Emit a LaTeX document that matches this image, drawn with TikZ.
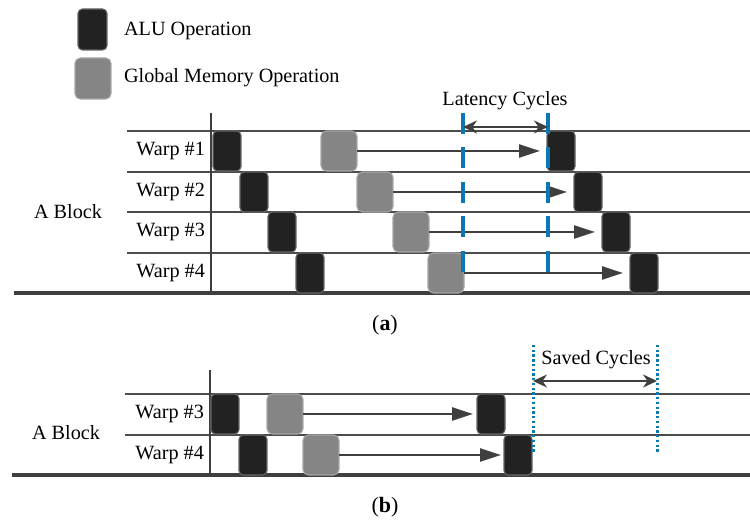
\documentclass[tikz,border=0pt]{standalone}
\usepackage{fontspec}
\setmainfont{Liberation Serif}
\usetikzlibrary{positioning,arrows.meta}

\definecolor{aluclr}{HTML}{222222}
\definecolor{memclr}{HTML}{858585}
\definecolor{markclr}{HTML}{0B77B3}
\definecolor{lineclr}{HTML}{3F3F3F}

\tikzset{
	alu/.style={draw=black!60, fill=aluclr, rounded corners=2.5pt, minimum width=0.56cm, minimum height=0.8cm, inner sep=0pt, outer sep=0pt, anchor=north west, line width=0.6pt},
	mem/.style={draw=black!35, fill=memclr, rounded corners=3pt, minimum width=0.72cm, minimum height=0.8cm, inner sep=0pt, outer sep=0pt, anchor=north west, line width=0.6pt},
	wait/.style={draw=lineclr, line width=1.4pt, shorten >=0.14cm, -{Triangle[length=0.42cm,width=0.26cm]}},
	rowline/.style={draw=black!70, line width=0.6pt},
	baseline/.style={draw=lineclr, line width=1.8pt},
	axis/.style={draw=lineclr, line width=1.1pt},
	latency/.style={draw=markclr, line width=1.8pt, dash pattern=on 0.42cm off 0.27cm},
	saved/.style={draw=markclr, line width=1.7pt, dash pattern=on 1.3pt off 1.4pt},
	span/.style={draw=lineclr, line width=1.2pt, {Stealth[length=0.28cm,width=0.26cm]}-{Stealth[length=0.28cm,width=0.26cm]}},
	lbl/.style={font=\fontsize{11.5pt}{13pt}\selectfont, inner sep=1pt}
}

\begin{document}
\begin{tikzpicture}[x=0.02cm, y=-0.02cm]
		\useasboundingbox (0,0) rectangle (750,523);
		
		% legend
		\node[alu, minimum width=0.58cm, minimum height=0.82cm] (legalu) at (78,9) {};
		\node[lbl, anchor=west] (legalut) at (122,31) {ALU Operation};
		\node[mem, minimum height=0.82cm] (legmem) at (75,58) {};
		\node[lbl, anchor=west] (legmemt) at (122,78) {Global Memory Operation};
		
		% (a) four warps
		\draw[rowline] (127,131) -- (750,131);
		\draw[rowline] (127,172) -- (750,172);
		\draw[rowline] (127,212) -- (750,212);
		\draw[rowline] (127,253) -- (750,253);
		\draw[baseline] (14,293) -- (750,293);
		\draw[axis] (211,113) -- (211,293);
		
		\node[lbl] (blocka) at (68,212) {A Block};
		\node[lbl, anchor=east] (w1) at (207,151) {Warp \#1};
		\node[lbl, anchor=east] (w2) at (207,192) {Warp \#2};
		\node[lbl, anchor=east] (w3) at (207,232) {Warp \#3};
		\node[lbl, anchor=east] (w4) at (207,273) {Warp \#4};
		
		\node[alu] (a1) at (213,131) {};
		\node[alu] (a2) at (240,172) {};
		\node[alu] (a3) at (268,212) {};
		\node[alu] (a4) at (296,253) {};
		
		\node[mem] (m1) at (321,131) {};
		\node[mem] (m2) at (357,172) {};
		\node[mem] (m3) at (393,212) {};
		\node[mem] (m4) at (428,253) {};
		
		\node[alu] (r1) at (547,131) {};
		\node[alu] (r2) at (574,172) {};
		\node[alu] (r3) at (602,212) {};
		\node[alu] (r4) at (630,253) {};
		
		\draw[wait] (m1.east) -- (r1.west);
		\draw[wait] (m2.east) -- (r2.west);
		\draw[wait] (m3.east) -- (r3.west);
		\draw[wait] (m4.east) -- (r4.west);
		
		\coordinate (lat1t) at (463,113);
		\coordinate (lat1b) at (463,273);
		\coordinate (lat2t) at (548,113);
		\coordinate (lat2b) at (548,273);
		\draw[latency] (lat1t) -- (lat1b);
		\draw[latency] (lat2t) -- (lat2b);
		\coordinate (latl) at (463,127);
		\coordinate (latr) at (548,127);
		\draw[span] (latl) -- (latr);
		\node[lbl] (latt) at (505,101) {Latency Cycles};
		
		\node[font=\fontsize{12.5pt}{14pt}\selectfont] (capa) at (385,325) {(\textbf{a})};
		
		% (b) two warps
		\draw[rowline] (125,394) -- (750,394);
		\draw[rowline] (125,435) -- (750,435);
		\draw[baseline] (12,475) -- (750,475);
		\draw[axis] (210,370) -- (210,475);
		
		\node[lbl] (blockb) at (66,433) {A Block};
		\node[lbl, anchor=east] (v3) at (206,414) {Warp \#3};
		\node[lbl, anchor=east] (v4) at (206,455) {Warp \#4};
		
		\node[alu] (b3) at (211,394) {};
		\node[alu] (b4) at (239,435) {};
		\node[mem] (n3) at (267,394) {};
		\node[mem] (n4) at (303,435) {};
		\node[alu] (s3) at (477,394) {};
		\node[alu] (s4) at (504,435) {};
		
		\draw[wait, shorten >=0.08cm] (n3.east) -- (s3.west);
		\draw[wait, shorten >=0.06cm] (n4.east) -- (s4.west);
		
		\coordinate (sav1t) at (533,345);
		\coordinate (sav1b) at (533,453);
		\coordinate (sav2t) at (657,345);
		\coordinate (sav2b) at (657,453);
		\draw[saved] (sav1t) -- (sav1b);
		\draw[saved] (sav2t) -- (sav2b);
		\coordinate (savl) at (533,381);
		\coordinate (savr) at (657,381);
		\draw[span] (savl) -- (savr);
		\node[lbl] (savt) at (596,360) {Saved Cycles};
		
		\node[font=\fontsize{12.5pt}{14pt}\selectfont] (capb) at (385,507) {(\textbf{b})};
	\end{tikzpicture}
\end{document}
